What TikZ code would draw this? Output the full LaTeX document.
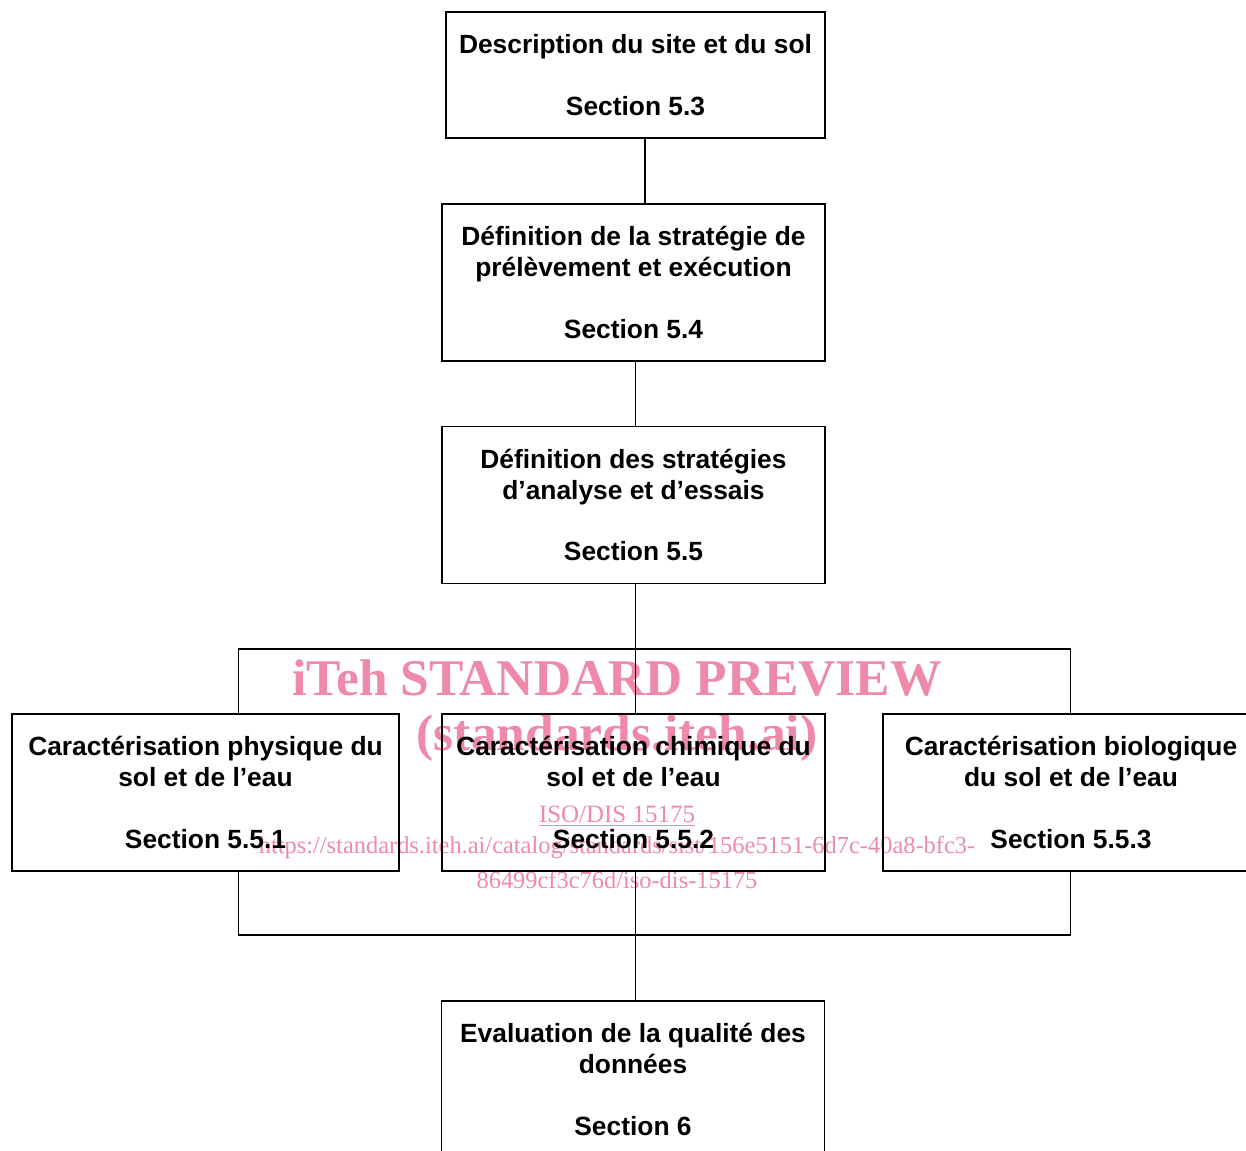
\documentclass[tikz,border=0pt]{standalone}
\usepackage{fontspec}
\setmainfont{Liberation Sans}
\newfontfamily\wmfont{Liberation Serif}
\definecolor{wmpink}{RGB}{238,138,168}
\begin{document}
\begin{tikzpicture}[line width=1.1pt,
  sectionbox/.style={draw,align=center,minimum width=7.66cm,minimum height=3.14cm,
    font=\fontsize{15}{17.6}\selectfont\bfseries,inner sep=0pt},
  watermark/.style={text=wmpink,font=\wmfont,inner sep=0pt}]
\useasboundingbox (0,0) rectangle (24.92,23);
\node[watermark,font=\wmfont\bfseries\fontsize{29.3}{34}\selectfont] (wmtitle) at (12.34,9.44) {iTeh STANDARD PREVIEW};
\node[watermark,font=\wmfont\bfseries\fontsize{29.3}{34}\selectfont] (wmsite) at (12.34,8.24) {(standards.iteh.ai)};
\node[watermark,font=\wmfont\fontsize{14.2}{17}\selectfont] (wmiso) at (12.34,6.68) {\underline{ISO/DIS 15175}};
\node[watermark,font=\wmfont\fontsize{13.9}{17}\selectfont] (wmurl) at (12.34,6.04) {https://standards.iteh.ai/catalog/standards/sist/156e5151-6d7c-40a8-bfc3-};
\node[watermark,font=\wmfont\fontsize{13.9}{17}\selectfont] (wmdoc) at (12.34,5.4) {86499cf3c76d/iso-dis-15175};
\node[sectionbox,minimum width=7.58cm,minimum height=2.52cm] (desc) at (12.71,21.5) {Description du site et du sol\\[17.6pt]Section 5.3};
\node[sectionbox] (strat) at (12.67,17.35) {Définition de la stratégie de\\prélèvement et exécution\\[17.6pt]Section 5.4};
\node[sectionbox] (analyse) at (12.67,12.9) {Définition des stratégies\\d’analyse et d’essais\\[17.6pt]Section 5.5};
\node[sectionbox,minimum width=7.74cm] (phys) at (4.11,7.15) {Caractérisation physique du\\sol et de l’eau\\[17.6pt]Section 5.5.1};
\node[sectionbox] (chim) at (12.67,7.15) {Caractérisation chimique du\\sol et de l’eau\\[17.6pt]Section 5.5.2};
\node[sectionbox,minimum width=7.52cm] (bio) at (21.42,7.15) {Caractérisation biologique\\du sol et de l’eau\\[17.6pt]Section 5.5.3};
\node[sectionbox] (eval) at (12.66,1.41) {Evaluation de la qualité des\\données\\[17.6pt]Section 6};
\coordinate (trunk) at (12.71,0);
\coordinate (tl) at (4.77,10.02);
\coordinate (tr) at (21.41,10.02);
\coordinate (bl) at (4.77,4.3);
\coordinate (br) at (21.41,4.3);
\draw ([xshift=.19cm]desc.south) -- ([xshift=.19cm]desc.south |- strat.north);
\draw (strat.south -| trunk) -- (analyse.north -| trunk);
\draw (analyse.south -| trunk) -- (chim.north -| trunk);
\draw (phys.north -| tl) -- (tl) -- (tr) -- (bio.north -| tr);
\draw (phys.south -| bl) -- (bl) -- (br) -- (bio.south -| br);
\draw (chim.south -| trunk) -- (eval.north -| trunk);
\end{tikzpicture}
\end{document}
